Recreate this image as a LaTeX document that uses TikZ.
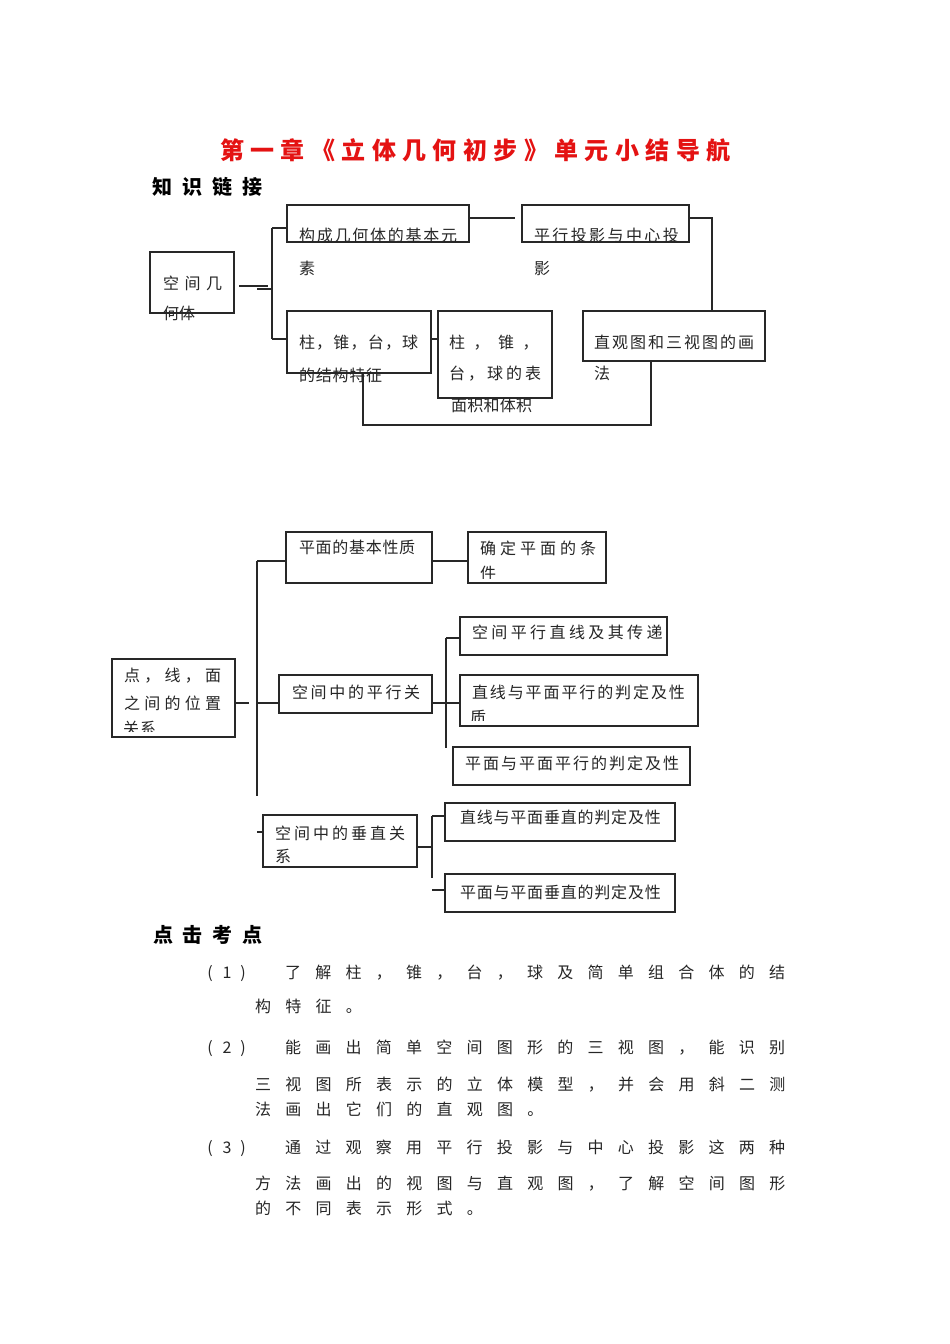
\documentclass[tikz,border=0pt]{standalone}
\usepackage{fontspec}
\setmainfont{Noto Sans CJK SC}
\usetikzlibrary{calc}
\definecolor{titlered}{RGB}{228,18,18}
\definecolor{ink}{RGB}{40,40,40}
\tikzset{
 box/.style={draw=ink, line width=1.1pt, rectangle, inner sep=0pt, outer sep=0pt, anchor=north west},
 conn/.style={draw=ink, line width=1.1pt},
 glyph/.style={inner sep=0pt, outer sep=0pt, anchor=center},
 dtext/.style={glyph, font=\fontsize{16pt}{19pt}\selectfont, text height=14.08pt, text depth=1.92pt, text=black!85},
 ptext/.style={glyph, font=\fontsize{16pt}{19pt}\selectfont, text height=14.08pt, text depth=1.92pt, text=black!85},
 htext/.style={glyph, font=\fontsize{20pt}{24pt}\selectfont\bfseries, text height=17.6pt, text depth=2.4pt, text=black},
 ttext/.style={glyph, font=\fontsize{24pt}{28pt}\selectfont\bfseries, text height=21.12pt, text depth=2.88pt, text=titlered},
}
\newcommand\bx[5]{\node[box, minimum width={(#4-#2)*1pt}, minimum height={(#5-#3)*1pt}] (#1) at (#2,#3) {};}
\newcommand\tline[6]{\foreach \chr [count=\i from 0] in {#6} {\node[#1] (#2-\i) at ({#3+\i*#4},#5) {\chr};}}
\newcommand\numlabel[3]{\node[ptext] (#1a) at (210,#3) {(};\node[ptext] (#1b) at (227,#3) {#2};\node[ptext] (#1c) at (243,#3) {)};}
\begin{document}
\begin{tikzpicture}[x=1pt,y=-1pt]
\useasboundingbox[fill=white] (0,0) rectangle (950,1344);

% ---------- headings ----------
\tline{ttext}{title}{232}{30.4}{150}{第,一,章,《,立,体,几,何,初,步,》,单,元,小,结,导,航}
\tline{htext}{know}{162}{30.3}{187}{知,识,链,接}

% ---------- top diagram ----------
\bx{root}{150}{252}{234}{313}
\bx{elem}{287}{205}{469}{242}
\bx{proj}{522}{205}{689}{242}
\bx{struct}{287}{311}{431}{373}
\bx{area}{438}{311}{552}{398}
\bx{sketch}{583}{311}{765}{361}

\coordinate (rj) at (268,286);
\coordinate (rk) at (257,289);
\coordinate (t1) at (272,228);
\coordinate (t2) at (272,339);
\draw[conn] ($(root.east |- rj)+(5,0)$) -- (rj);
\draw[conn] (rk) -- (t1 |- rk);
\draw[conn] (t1) -- (t2);
\draw[conn] (t1) -- (elem.west |- t1);
\draw[conn] (t2) -- (struct.west |- t2);
\coordinate (h1) at (712,218);
\draw[conn] (elem.east |- h1) -- ($(proj.west |- h1)+(-7,0)$);
\draw[conn] (proj.east |- h1) -- (h1) -- (sketch.north -| h1);
\coordinate (h2) at (435,339);
\draw[conn] (struct.east |- h2) -- (area.west |- h2);
\coordinate (bl) at (363,425);
\coordinate (br) at (651,425);
\draw[conn] (struct.south -| bl) -- (bl) -- (br) -- (sketch.south -| br);

\tline{dtext}{rootA}{171}{21.5}{283}{空,间,几}
\tline{dtext}{rootB}{171}{16}{313}{何,体}
\tline{dtext}{elemA}{307}{17.75}{235}{构,成,几,何,体,的,基,本,元}
\tline{dtext}{elemB}{307}{17}{268}{素}
\tline{dtext}{projA}{542}{18.4}{235}{平,行,投,影,与,中,心,投}
\tline{dtext}{projB}{542}{18}{268}{影}
\tline{dtext}{structA}{307}{17.2}{342}{柱,，,锥,，,台,，,球}
\tline{dtext}{structB}{307}{16.75}{375}{的,结,构,特,征}
\tline{dtext}{areaA}{457}{24.5}{342}{柱,，,锥,，}
\tline{dtext}{areaB}{457}{19}{373}{台,，,球,的,表}
\tline{dtext}{areaC}{459}{16.3}{405}{面,积,和,体,积}
\tline{dtext}{sketchA}{602}{18}{342}{直,观,图,和,三,视,图,的,画}
\tline{dtext}{sketchB}{602}{18}{373}{法}

% ---------- middle diagram ----------
\bx{pos}{112}{659}{235}{737}
\bx{plane}{286}{532}{432}{583}
\bx{cond}{468}{532}{606}{583}
\bx{par}{279}{675}{432}{713}
\bx{plA}{460}{617}{667}{655}
\bx{plB}{460}{675}{698}{726}
\bx{plC}{453}{747}{690}{785}
\bx{perp}{263}{815}{417}{867}
\bx{ppA}{445}{803}{675}{841}
\bx{ppB}{445}{874}{675}{912}

\coordinate (m1) at (257,561);
\coordinate (m2) at (257,796);
\coordinate (m3) at (249,703);
\coordinate (m4) at (257,703);
\draw[conn] (m1) -- (m2);
\draw[conn] (m1) -- (plane.west |- m1);
\draw[conn] (pos.east |- m3) -- (m3);
\draw[conn] (m4) -- (par.west |- m4);
\draw[conn] (plane.east |- m1) -- (cond.west |- m1);
\coordinate (m5) at (446,638);
\coordinate (m6) at (446,748);
\draw[conn] (m5) -- (m6);
\draw[conn] (m5) -- (plA.west |- m5);
\draw[conn] (par.east |- m4) -- (plB.west |- m4);
\coordinate (m7) at (257,832);
\draw[conn] (m7) -- (perp.west |- m7);
\coordinate (m8) at (432,816);
\coordinate (m9) at (432,878);
\coordinate (m10) at (432,847);
\coordinate (m11) at (432,890);
\draw[conn] (perp.east |- m10) -- (m10);
\draw[conn] (m8) -- (m9);
\draw[conn] (m8) -- (ppA.west |- m8);
\draw[conn] (m11) -- (ppB.west |- m11);

\tline{dtext}{posA}{132}{20.25}{675}{点,，,线,，,面}
\tline{dtext}{posB}{132}{20.25}{703}{之,间,的,位,置}
\begin{scope}
\clip (112,659) rectangle (235,731);
\tline{dtext}{posC}{131}{17}{728}{关,系}
\end{scope}
\tline{dtext}{planeA}{307}{16.7}{547}{平,面,的,基,本,性,质}
\tline{dtext}{condA}{488}{20}{548}{确,定,平,面,的,条}
\begin{scope}
\clip (468,532) rectangle (606,578);
\tline{dtext}{condB}{488}{20}{573}{件}
\end{scope}
\tline{dtext}{parA}{300}{18.7}{692}{空,间,中,的,平,行,关}
\tline{dtext}{plAt}{480}{19.4}{632}{空,间,平,行,直,线,及,其,传,递}
\tline{dtext}{plBt}{480}{17.9}{692}{直,线,与,平,面,平,行,的,判,定,及,性}
\begin{scope}
\clip (460,675) rectangle (698,720);
\tline{dtext}{plBu}{478}{17}{717}{质}
\end{scope}
\tline{dtext}{plCt}{473}{18}{763}{平,面,与,平,面,平,行,的,判,定,及,性}
\tline{dtext}{perpA}{283}{19}{833}{空,间,中,的,垂,直,关}
\tline{dtext}{perpB}{283}{19}{856}{系}
\tline{dtext}{ppAt}{468}{16.8}{817}{直,线,与,平,面,垂,直,的,判,定,及,性}
\tline{dtext}{ppBt}{468}{16.8}{892}{平,面,与,平,面,垂,直,的,判,定,及,性}

% ---------- key points ----------
\tline{htext}{click}{163}{29.7}{935}{点,击,考,点}
\numlabel{n1}{1}{972}
\tline{ptext}{p1a}{293}{30.25}{972}{了,解,柱,，,锥,，,台,，,球,及,简,单,组,合,体,的,结}
\tline{ptext}{p1b}{263}{30.25}{1006}{构,特,征,。}
\numlabel{n2}{2}{1047}
\tline{ptext}{p2a}{293}{30.25}{1047}{能,画,出,简,单,空,间,图,形,的,三,视,图,，,能,识,别}
\tline{ptext}{p2b}{263}{30.25}{1084}{三,视,图,所,表,示,的,立,体,模,型,，,并,会,用,斜,二,测}
\tline{ptext}{p2c}{263}{30.25}{1109}{法,画,出,它,们,的,直,观,图,。}
\numlabel{n3}{3}{1147}
\tline{ptext}{p3a}{293}{30.25}{1147}{通,过,观,察,用,平,行,投,影,与,中,心,投,影,这,两,种}
\tline{ptext}{p3b}{263}{30.25}{1183}{方,法,画,出,的,视,图,与,直,观,图,，,了,解,空,间,图,形}
\tline{ptext}{p3c}{263}{30.25}{1208}{的,不,同,表,示,形,式,。}
\end{tikzpicture}
\end{document}
